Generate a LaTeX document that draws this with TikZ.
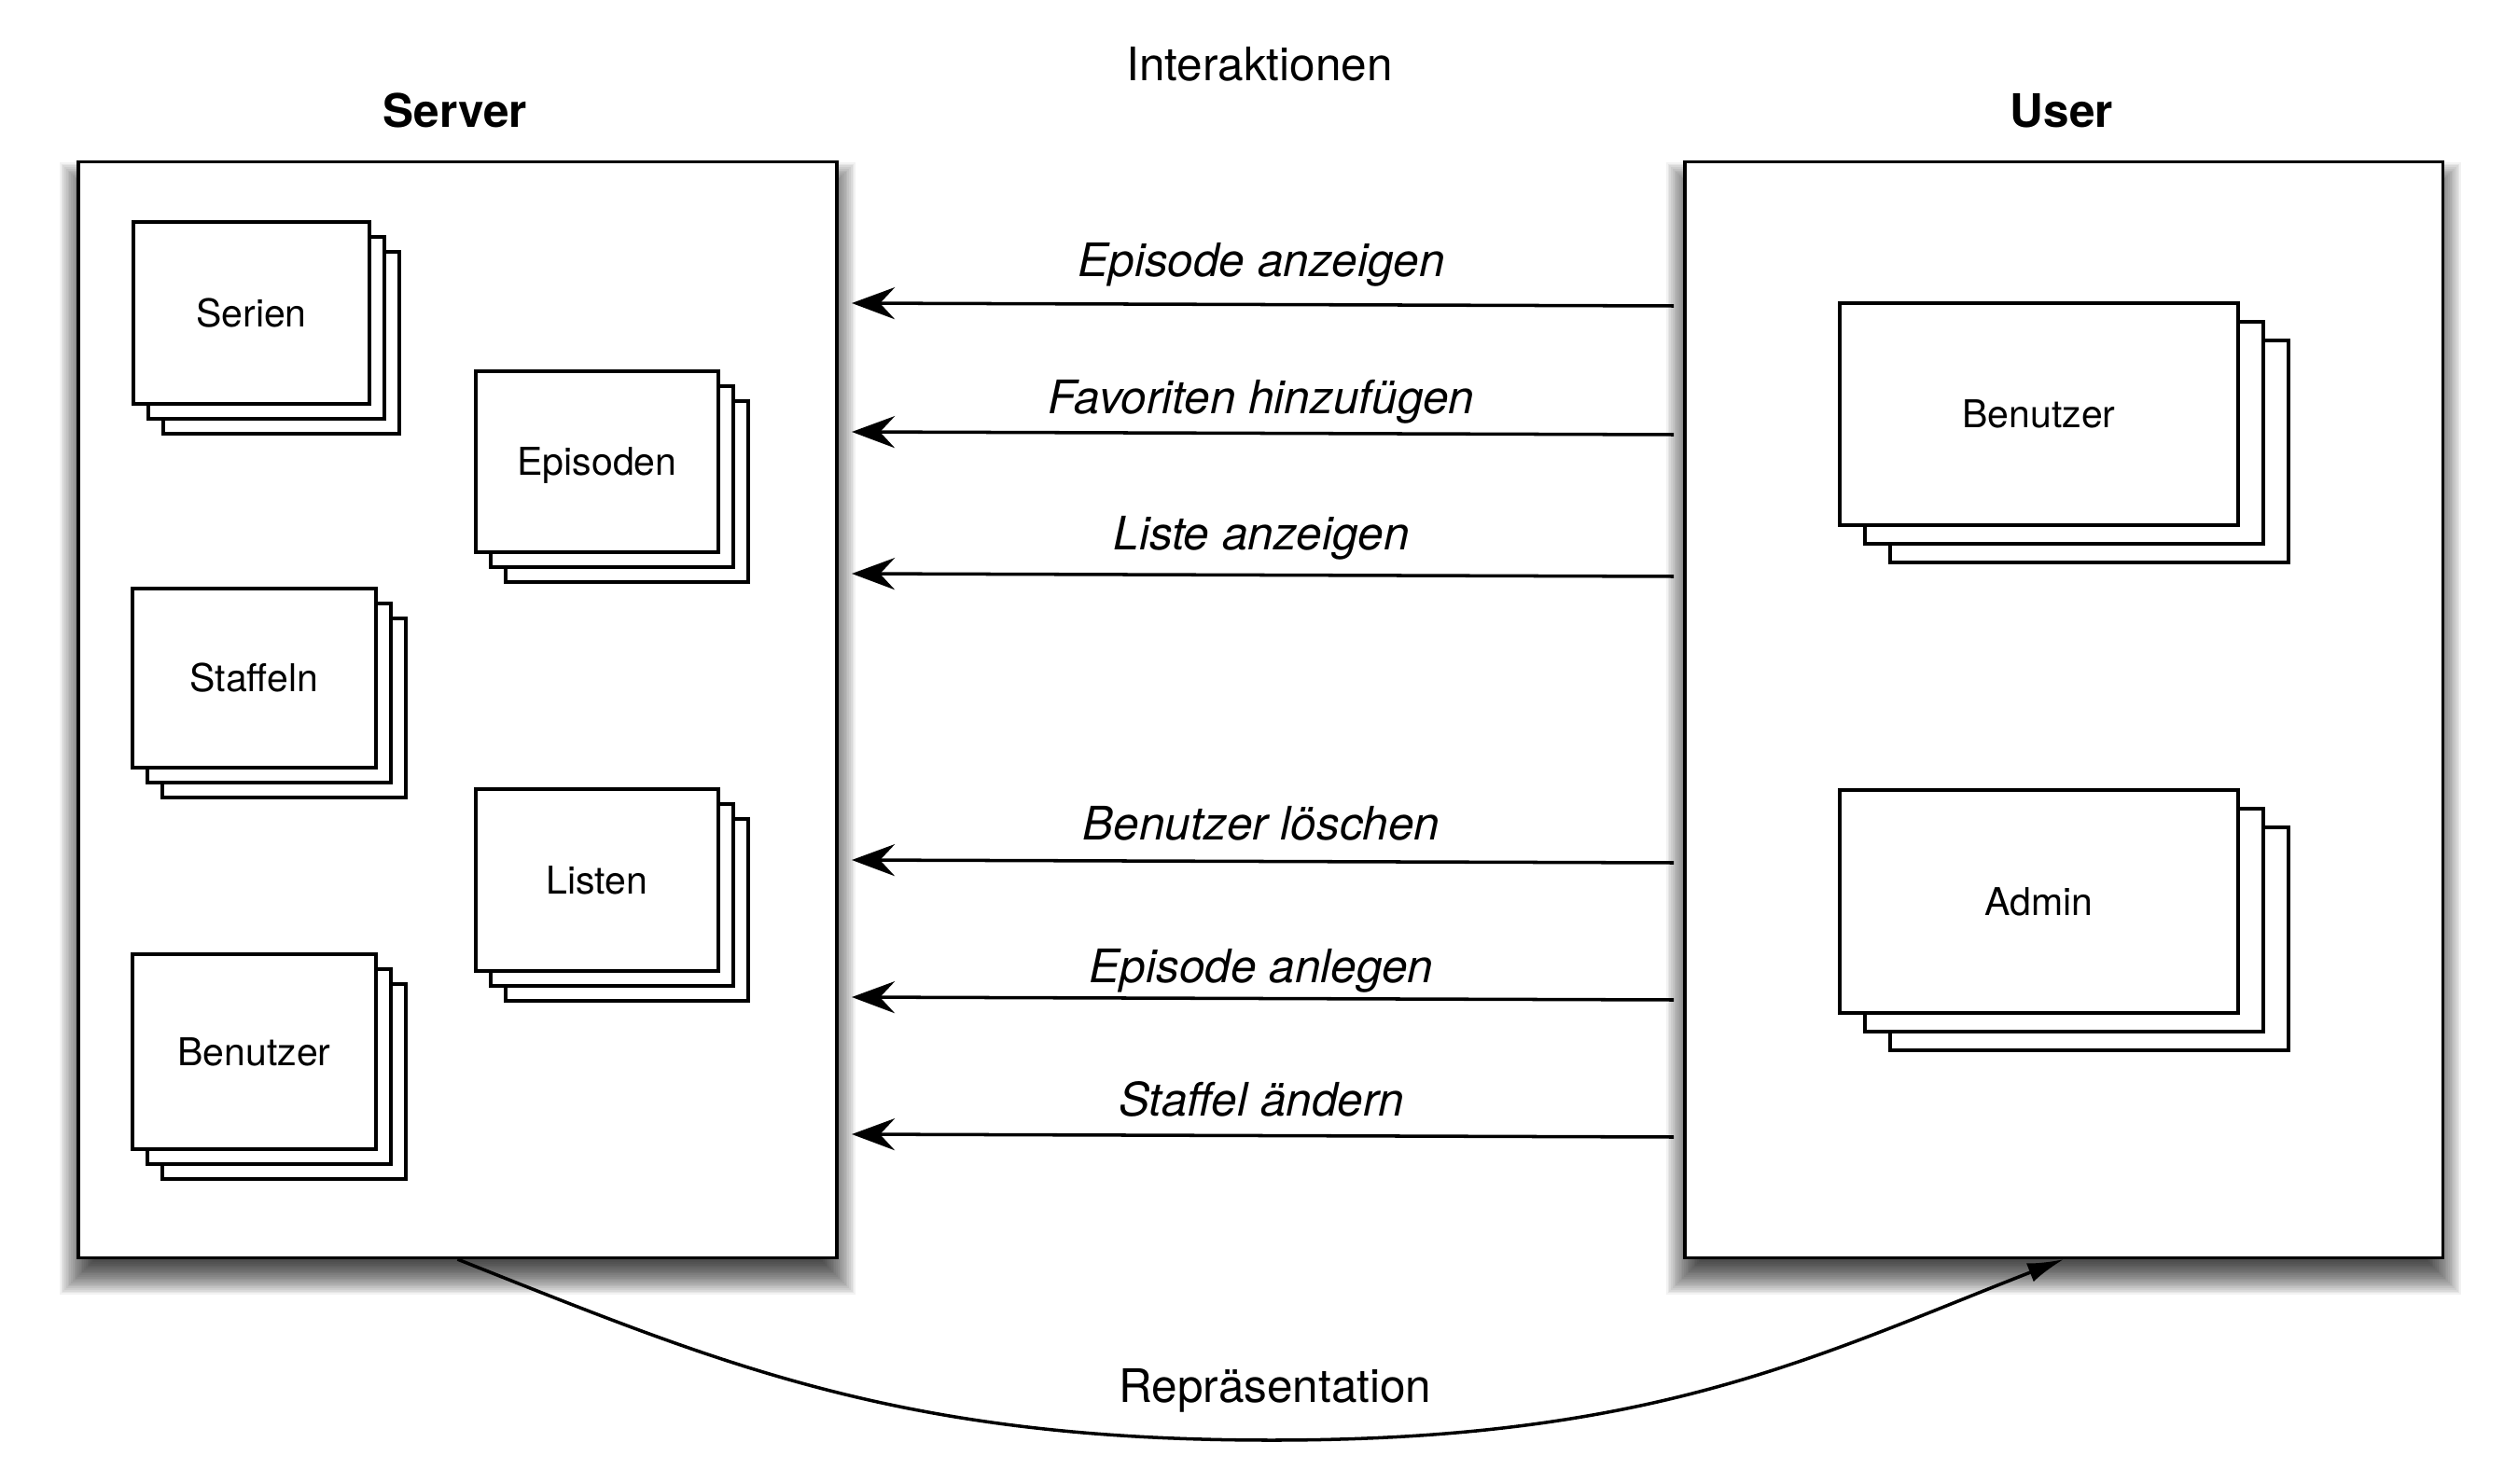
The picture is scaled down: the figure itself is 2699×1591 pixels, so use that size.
\documentclass[tikz,border=0pt]{standalone}
\usepackage{fontspec}
\setmainfont{TeX Gyre Heros}
\usetikzlibrary{arrows.meta}
\newcommand\panelshadow[4]{%
  \foreach \k in {0,...,23}{%
    \pgfmathsetmacro\e{20-40*\k/23}%
    \fill[black, opacity=0.05] (#1-\e, #2+20-\e) rectangle (#3+\e, #4+20+\e);
  }}
\newcommand\cardstack[8]{%
  \draw[cardback] (#2+2*#6,#3+2*#7) rectangle (#4+2*#6,#5+2*#7);
  \draw[cardback] (#2+#6,#3+#7) rectangle (#4+#6,#5+#7);
  \pgfmathsetmacro\cw{(#4-#2)*0.01}%
  \pgfmathsetmacro\ch{(#5-#3)*0.01}%
  \node[card, minimum width=\cw cm, minimum height=\ch cm] (#1) at ({(#2+#4)/2},{(#3+#5)/2}) {#8};
}
\begin{document}
\begin{tikzpicture}[x=0.01cm, y=-0.01cm,
  lbl/.style={inner sep=0, anchor=base, font=\fontsize{14.08pt}{17pt}\selectfont},
  act/.style={inner sep=0, anchor=base, font=\fontsize{14.08pt}{17pt}\selectfont\itshape},
  heading/.style={inner sep=0, anchor=base, font=\fontsize{14.08pt}{17pt}\selectfont\bfseries},
  panel/.style={draw, line width=1pt, fill=white, inner sep=0},
  card/.style={draw, line width=1pt, fill=white, inner sep=0, text height=8.38pt, text depth=0pt,
    font=\fontsize{11.67pt}{14pt}\selectfont},
  cardback/.style={draw, line width=1pt, fill=white},
  call/.style={line width=1pt, -{Stealth[length=13.1pt, width=9.7pt, inset=4.5pt]}},
  repr/.style={line width=1pt, -{Latex[length=11pt, width=6pt]}}
]
\fill[white] (0,0) rectangle (2699,1591);
\useasboundingbox (0,0) rectangle (2699,1591);

% headings
\node[lbl] (inter) at (1350,86.7) {Interaktionen};
\node[heading] (serverlbl) at (488,137) {Server};
\node[heading] (userlbl) at (2210,137) {User};

% panels with shadow
\panelshadow{84}{174}{897}{1348}
\panelshadow{1806}{174}{2618}{1348}
\node[panel, minimum width=8.13cm, minimum height=11.74cm] (server) at (490.5,761) {};
\node[panel, minimum width=8.12cm, minimum height=11.74cm] (user) at (2212,761) {};

% server stacks
\cardstack{serien}{143}{238}{396}{433}{16}{16}{Serien}
\cardstack{episoden}{510}{398}{770}{592}{16}{16}{Episoden}
\cardstack{staffeln}{142}{631}{403}{823}{16}{16}{Staffeln}
\cardstack{listen}{510}{846}{770}{1041}{16}{16}{Listen}
\cardstack{sbenutzer}{142}{1023}{403}{1232}{16}{16}{Benutzer}

% user stacks
\cardstack{ubenutzer}{1972}{325}{2399}{563}{27}{20}{Benutzer}
\cardstack{admin}{1972}{847}{2399}{1086}{27}{20}{Admin}

% interaction arrows
\coordinate (s1) at (913,325);  \coordinate (u1) at (1794,328);
\coordinate (s2) at (913,463);  \coordinate (u2) at (1794,466);
\coordinate (s3) at (913,615);  \coordinate (u3) at (1794,618);
\coordinate (s4) at (913,922);  \coordinate (u4) at (1794,925);
\coordinate (s5) at (913,1069); \coordinate (u5) at (1794,1072);
\coordinate (s6) at (913,1216); \coordinate (u6) at (1794,1219);
\foreach \i in {1,...,6}{\draw[call] (u\i) -- (s\i);}

\node[act] (l1) at (1352,297) {Episode anzeigen};
\node[act] (l2) at (1352,443) {Favoriten hinzufügen};
\node[act] (l3) at (1352,589) {Liste anzeigen};
\node[act] (l4) at (1352,900) {Benutzer löschen};
\node[act] (l5) at (1352,1053) {Episode anlegen};
\node[act] (l6) at (1352,1196) {Staffel ändern};

% representation curve
\draw[repr] (server.south) .. controls (774.6,1463) and (964,1544) .. (1363,1544)
  .. controls (1773,1544) and (1945,1454.5) .. (user.south);
\node[lbl] (repr) at (1367,1503) {Repräsentation};
\end{tikzpicture}
\end{document}
